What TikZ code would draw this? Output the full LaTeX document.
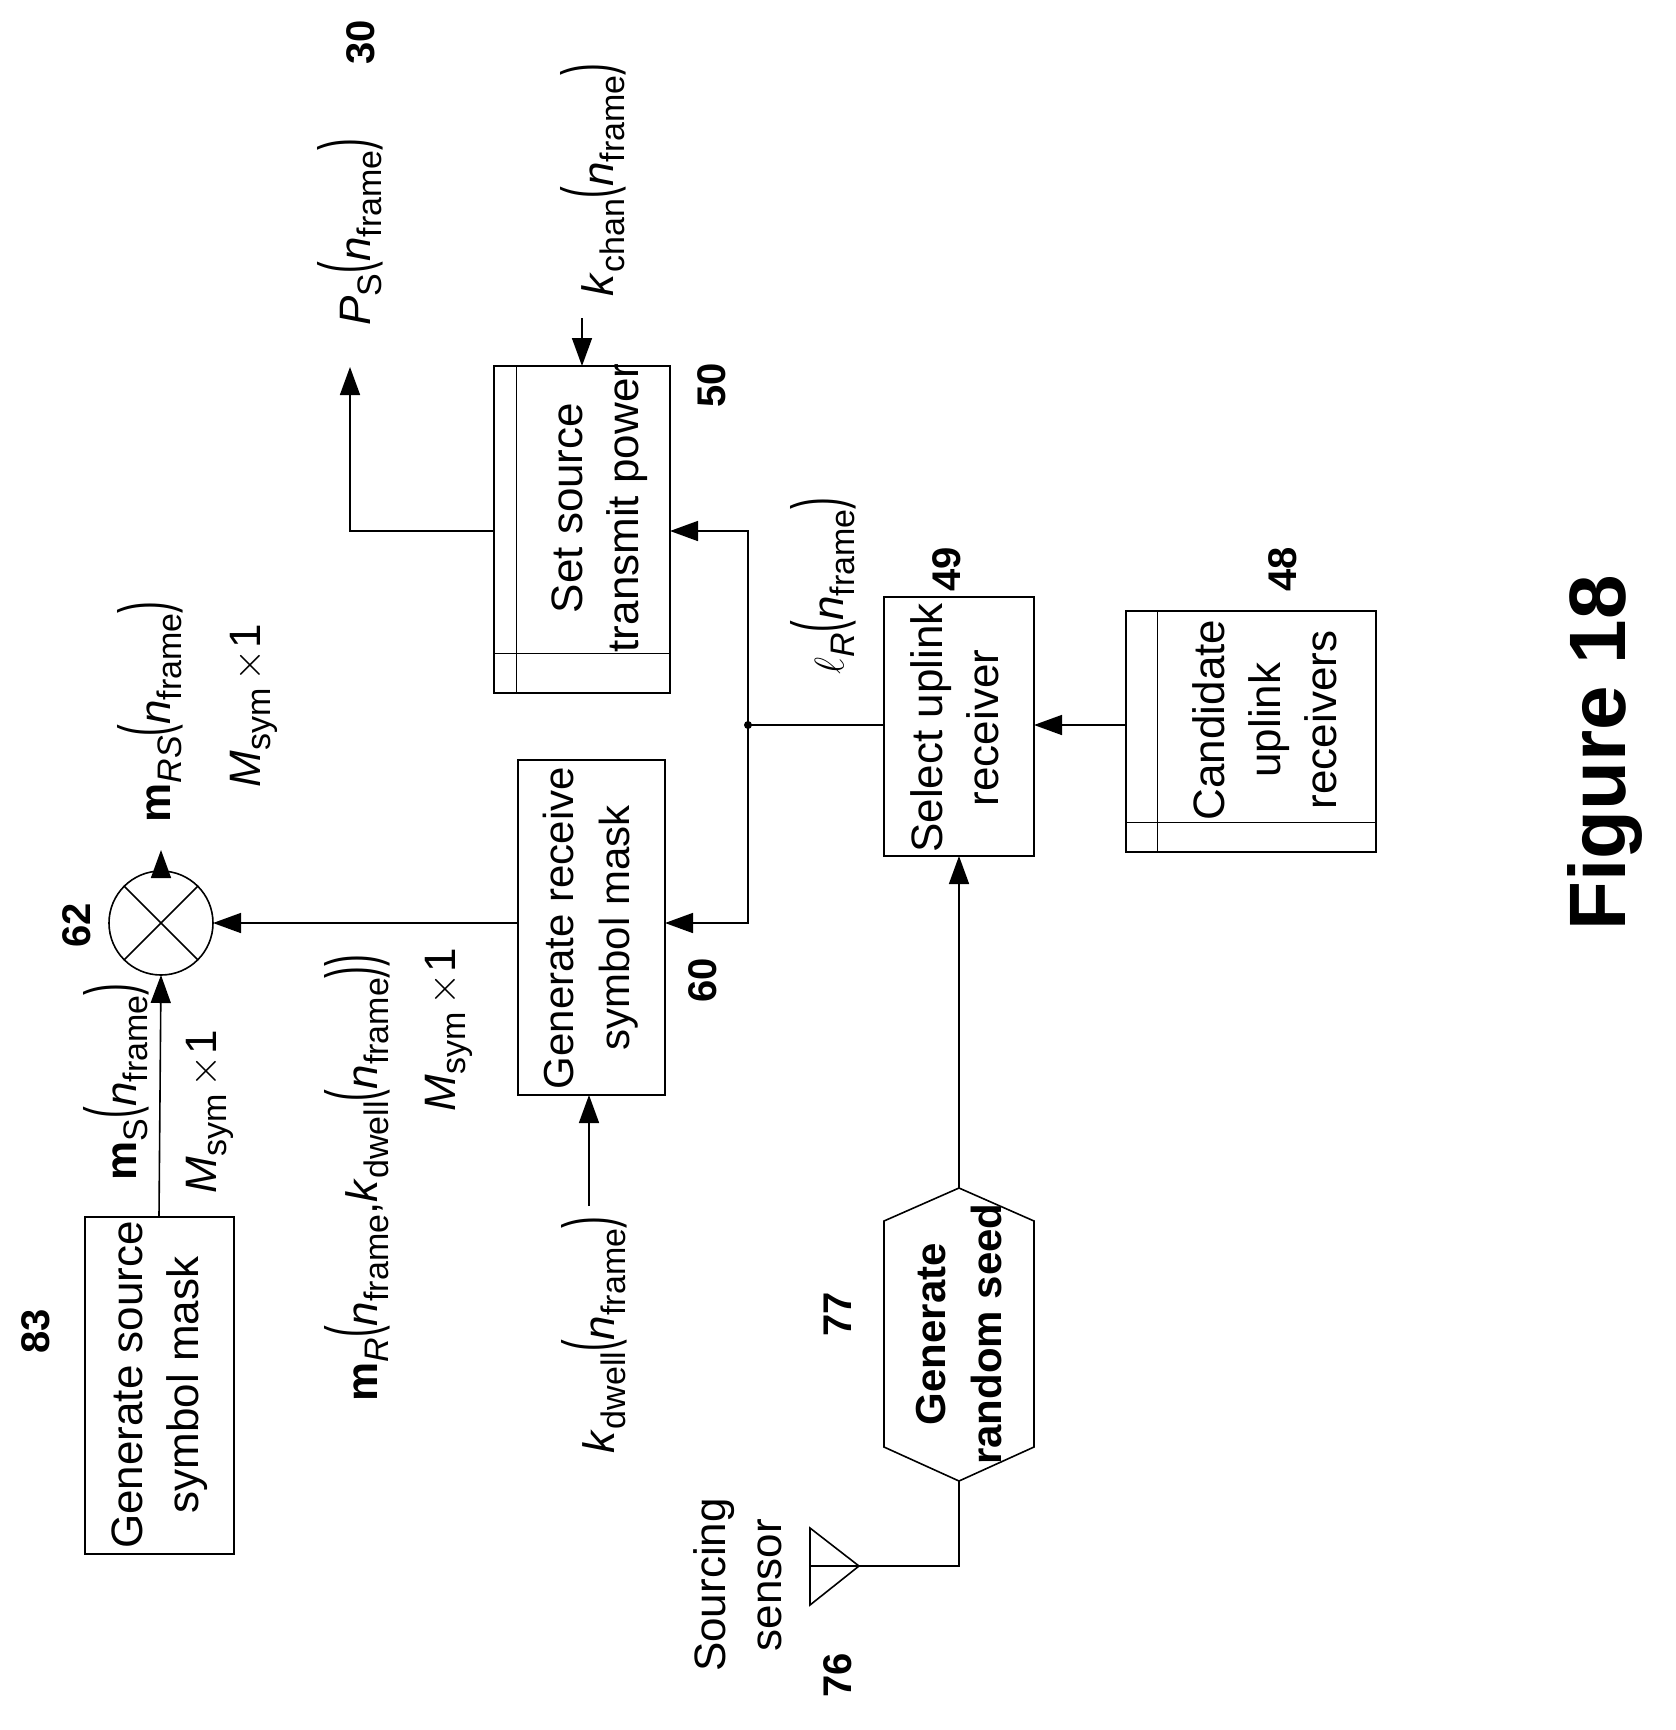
\documentclass[tikz,border=0pt]{standalone}
\usepackage{fontspec}
\setmainfont{Liberation Sans}
\usetikzlibrary{arrows.meta,shapes.geometric}
\newcommand\Sb[1]{\raisebox{-0.45ex}{\fontsize{17}{20}\selectfont #1}}
\newcommand\LP{\raisebox{0.1ex}{\scalebox{0.8}[1.6]{(}}}
\newcommand\RP{\raisebox{0.1ex}{\scalebox{0.8}[1.6]{)}}}
\newcommand\nfr{\textit{n}\Sb{frame}}
\begin{document}
\begin{tikzpicture}[x=0.5pt,y=-0.5pt,
  every node/.style={rotate=90,font=\fontsize{22}{28}\selectfont,align=center,inner sep=0pt},
  num/.style={font=\fontsize{20}{22}\selectfont\bfseries},
  arr/.style={thick,-{Triangle[length=14pt,width=10pt]}},
  ln/.style={thick}]
\useasboundingbox (0,0) rectangle (1676,1730);
% boxes
\draw[thick] (85,1217) rectangle (234,1554);
\node (src) at (160,1385) {Generate source\\symbol mask};
\draw[thick] (518,760) rectangle (665,1095);
\node[font=\fontsize{21}{28}\selectfont] (rcv) at (591,928) {Generate receive\\symbol mask};
\draw[thick] (884,597) rectangle (1034,856);
\node (sel) at (955,728) {Select uplink\\receiver};
\draw[thick] (494,366) rectangle (670,693);
\node (pow) at (600,508) {Set source\\transmit power};
\draw[thin] (516,366) -- (516,693) (494,653) -- (670,653);
\draw[thick] (1126,611) rectangle (1376,852);
\node (cand) at (1265,720) {Candidate\\uplink\\receivers};
\draw[thin] (1157,611) -- (1157,852) (1126,822) -- (1376,822);
% hexagon
\draw[thick] (959,1188) -- (1034,1221) -- (1034,1447) -- (959,1481) -- (884,1447) -- (884,1221) -- cycle;
\node[font=\fontsize{21}{28}\selectfont\bfseries] (hex) at (959,1334) {Generate\\random seed};
% multiplier
\node[draw,thick,circle,minimum size=52pt,rotate=0] (mul) at (161,923) {};
\draw[thick] (mul.north east) -- (mul.south west) (mul.north west) -- (mul.south east);
% coordinates
\coordinate (srcT) at (159,1217);
\coordinate (mulB) at (161,975);
\coordinate (mulR) at (213,923);
\coordinate (mulT) at (161,871);
\coordinate (mout) at (161,850);
\coordinate (rcvL) at (518,923);
\coordinate (rcvR) at (665,923);
\coordinate (rcvB) at (589,1095);
\coordinate (selL) at (884,725);
\coordinate (selR) at (1034,725);
\coordinate (selB) at (959,856);
\coordinate (powL) at (494,531);
\coordinate (powR) at (670,531);
\coordinate (powT) at (582,366);
\coordinate (candL) at (1126,725);
\coordinate (hexT) at (959,1188);
\coordinate (hexB) at (959,1481);
\coordinate (ant) at (859,1566);
\coordinate (ps) at (350,367);
\coordinate (kc) at (582,318);
\coordinate (kd) at (589,1206);
\coordinate (j) at (748,725);
% antenna
\draw[thick] (ant) -- (810,1528) -- (810,1605) -- cycle (810,1566) -- (ant);
\draw[ln] (hexB) -- (959,1566) -- (ant);
% connectors
\draw[arr] (srcT) -- (mulB);
\draw[arr] (rcvL) -- (mulR);
\draw[arr] (mulT) -- (mout);
\fill (j) circle (4);
\draw[ln] (selL) -- (j);
\draw[arr] (j) -- (748,923) -- (rcvR);
\draw[arr] (j) -- (748,531) -- (powR);
\draw[arr] (powL) -- (350,531) -- (ps);
\draw[arr] (kc) -- (powT);
\draw[arr] (kd) -- (rcvB);
\draw[arr] (candL) -- (selR);
\draw[arr] (hexT) -- (selB);
% labels
\node[num] (n83) at (36,1331) {83};
\node[num] (n62) at (77,925) {62};
\node[num] (n60) at (703,980) {60};
\node[num] (n50) at (712,385) {50};
\node[num] (n30) at (361,42) {30};
\node[num] (n49) at (947,569) {49};
\node[num] (n48) at (1283,569) {48};
\node[num] (n77) at (838,1314) {77};
\node[num] (n76) at (838,1675) {76};
\node (ss) at (738,1585) {Sourcing\\sensor};
\node[font=\fontsize{40}{44}\selectfont\bfseries] (fig) at (1605,753) {Figure 18};
\node (lms) at (116,1082) {\textbf{m}\Sb{S}\LP\nfr\RP};
\node (lm1) at (210,1112) {\textit{M}\Sb{sym}\,$\times$1};
\node (lmr) at (357,1178) {\textbf{m}\Sb{\textit{R}}\LP\nfr,\textit{k}\Sb{dwell}\LP\nfr\RP\RP};
\node (lm2) at (449,1030) {\textit{M}\Sb{sym}\,$\times$1};
\node (lkd) at (594,1335) {\textit{k}\Sb{dwell}\LP\nfr\RP};
\node (lrs) at (150,712) {\textbf{m}\Sb{\textit{RS}}\LP\nfr\RP};
\node (lm3) at (254,706) {\textit{M}\Sb{sym}\,$\times$1};
\node (llr) at (823,586) {$\ell$\Sb{\textit{R}}\LP\nfr\RP};
\node (lps) at (350,232) {\textit{P}\Sb{S}\LP\nfr\RP};
\node (lkc) at (593,180) {\textit{k}\Sb{chan}\LP\nfr\RP};
\end{tikzpicture}
\end{document}
